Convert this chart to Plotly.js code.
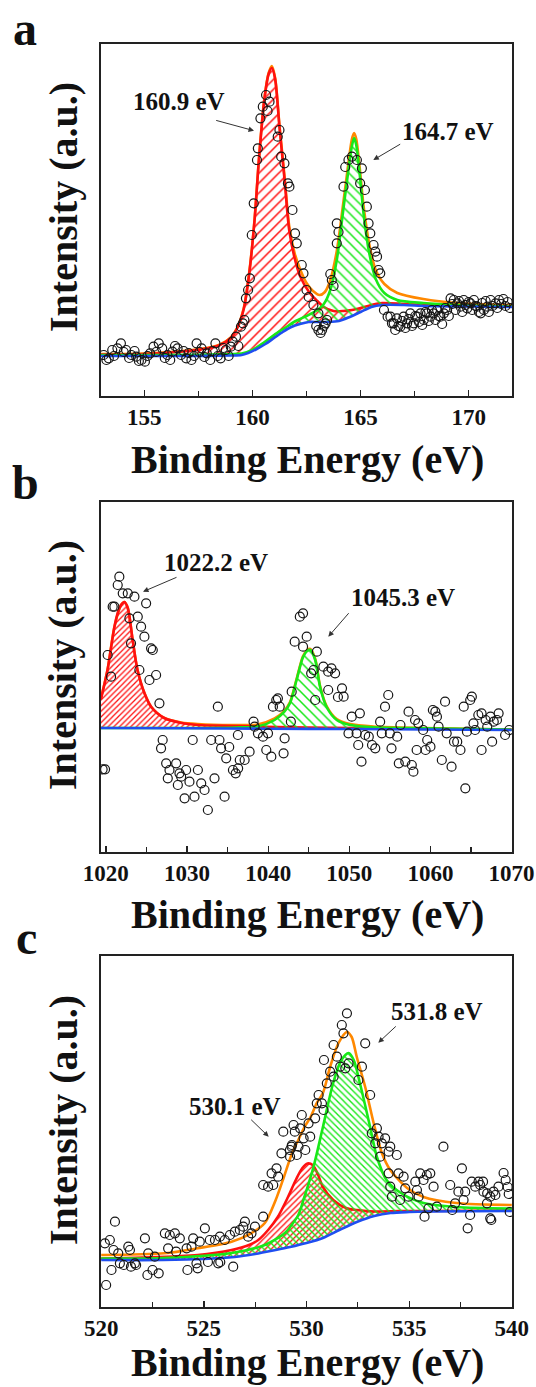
<!DOCTYPE html>
<html>
<head>
<meta charset="utf-8">
<script src="https://cdn.plot.ly/plotly-3.0.1.min.js"></script>
<style>html,body{margin:0;padding:0;background:#fff;}#chart{width:536px;height:1387px;}</style>
</head>
<body>
<div id="chart"></div>
<script>
// ---------------- Panel a : S 2p ----------------
const aDataX = [153.12,153.25,153.36,153.52,153.6,153.76,153.92,154.05,154.16,154.3,154.4,154.55,154.63,154.75,154.87,155.03,155.15,155.27,155.43,155.55,155.67,155.83,155.95,156.07,156.2,156.3,156.42,156.54,156.7,156.82,156.94,157.05,157.18,157.3,157.42,157.55,157.65,157.78,157.89,158.05,158.17,158.29,158.4,158.53,158.65,158.77,158.9,159.0,159.09,159.24,159.35,159.47,159.56,159.63,159.7,159.8,159.88,159.97,160.06,160.21,160.25,160.37,160.48,160.63,160.7,160.79,161.17,161.25,161.33,161.48,161.64,161.71,161.85,161.97,162.05,162.28,162.36,162.5,162.6,162.82,162.95,163.05,163.05,163.15,163.22,163.3,163.38,163.45,163.6,163.67,163.75,163.9,163.9,163.98,164.21,164.29,164.44,164.6,164.83,164.98,165.06,165.2,165.29,165.37,165.45,165.6,165.68,165.76,165.83,165.91,166.08,166.25,166.38,166.45,166.53,166.6,166.68,166.75,166.84,166.92,166.99,167.07,167.15,167.22,167.3,167.38,167.46,167.53,167.61,167.7,167.77,167.85,167.92,168.0,168.07,168.15,168.23,168.3,168.38,168.46,168.54,168.61,168.69,168.77,168.85,168.92,169.0,169.08,169.16,169.24,169.31,169.39,169.47,169.55,169.62,169.7,169.77,169.85,169.93,170.0,170.08,170.16,170.24,170.31,170.39,170.47,170.55,170.62,170.7,170.78,170.86,170.93,171.01,171.1,171.24,171.32,171.4,171.5,171.6,171.7,171.8,171.9];
const aDataY = [41,36,37.7,46,40,47.7,52.7,44,46,38,41,45,39.3,35,36,34.3,40,42.7,49.3,44,52.7,47.7,38,41,36,44.3,50,47.7,41,45,37.7,43,36,40,52.7,44,47.7,39,42.7,36,45,52.7,40,37.7,48,46,40,49.3,54.3,59.3,50,69.3,72.7,76,97.7,106,117.7,161,192.7,236,247.7,277.7,289.3,301,285,294.3,259.3,266,239.3,232.7,212.7,209.3,186,162.7,152.7,131,122.7,106,99,91,70,82.7,66,63,66,70,72.7,76,122,116,110,152.7,172.7,164,209.3,229,236,239.3,236,212.7,227.7,206,189.3,172.7,162.7,151,144.3,139.3,126,122.7,86,79.3,79.3,72.7,72.7,66,77.7,70,69.3,75,79.3,68,72.7,77,82.7,70,72.7,80,79.3,74,82.7,71,76,84,82.7,75,79.3,86,82.7,76,86,80,79.3,72,82.7,88,86,80,97.7,92,96,86,92.7,95,89.3,84,96,91,87.7,94,92.7,86,96,90,89.3,84,82.7,93,86,95,89.3,84,96,90,92.7,88,96,92,97,90,94,88];
const aBgX = [153,157,159,159.5,159.8,160.2,160.6,161,161.4,161.8,162.2,162.6,163,163.5,164,164.5,165,165.5,166,167,168,170,172];
const aBgY = [40,40,40.5,41,43,47,52,58,64,69,72,74,74,74,75,79,84,89,91,91,90,89.5,89];
const aRedX = [153,155,157,158,158.5,159,159.3,159.6,159.85,160.1,160.3,160.55,160.75,160.9,161.05,161.25,161.5,161.7,161.95,162.2,162.65,163,163.3,163.75,164.2,164.6,165,165.5,166,167,168,170,172];
const aRedY = [41.5,42,45,48,51,58,68,87,122,176,236,296,322,328,317,269,213,166,138,120,103,95,89,85,85,86,88,91,93,92,91,90,89.5];
const aGreenX = [153,158,159.5,160,160.5,161,161.5,162,162.5,163,163.3,163.6,163.9,164.2,164.45,164.6,164.7,164.8,164.95,165.15,165.4,165.7,166.1,166.7,167.9,169.5,172];
const aGreenY = [41,41.5,42.5,46,53,61,68,75,80,86,92,106,136,186,228,250,258,251,224,180,143,117,103,96,93,91,89.5];
const aSumX = [153,155,157,158,158.5,159,159.3,159.6,159.85,160.1,160.3,160.55,160.75,160.9,161.05,161.25,161.5,161.7,161.95,162.2,162.5,162.8,163.1,163.35,163.6,163.9,164.2,164.45,164.6,164.7,164.8,164.95,165.15,165.4,165.7,166.1,166.7,167.9,169.5,172];
const aSumY = [42,42.5,45.5,48.5,51.5,58.5,68.5,88,123,177,237,297,323,330,318,271,216,170,143,127,113,105,101,104,116,145,193,235,257,263,257,230,188,152,126,112,103,97,93,91];

// ---------------- Panel b : Ni 2p ----------------
const bDataX = [1019.6,1019.9,1020.22,1020.64,1020.84,1021.05,1021.46,1021.66,1022.08,1022.7,1022.9,1023.1,1023.52,1023.93,1024.13,1024.34,1024.75,1024.96,1025.37,1025.57,1025.78,1026.19,1026.6,1026.8,1027.0,1027.43,1027.63,1027.84,1028.66,1028.87,1029.07,1029.28,1029.7,1029.89,1030.3,1030.7,1030.92,1031.34,1031.75,1032.16,1032.57,1032.98,1033.39,1033.8,1034.0,1034.2,1034.63,1034.83,1035.2,1035.66,1036.0,1036.27,1036.3,1036.5,1037.1,1037.71,1038.2,1038.33,1038.74,1039.36,1039.77,1039.98,1040.39,1040.59,1041.0,1041.2,1041.42,1041.9,1042.03,1042.8,1042.9,1043.27,1043.9,1044.3,1044.3,1044.75,1045.3,1045.6,1045.8,1046.0,1046.8,1047.4,1047.4,1047.8,1048.25,1048.6,1049.1,1049.3,1049.9,1050.3,1050.9,1051.1,1051.3,1051.5,1051.95,1052.4,1052.8,1053.2,1053.8,1054.0,1054.4,1054.8,1055.0,1055.2,1055.9,1056.1,1056.3,1056.9,1057.3,1057.7,1057.9,1058.1,1058.3,1058.5,1059.1,1059.4,1059.6,1060.0,1060.3,1060.6,1060.8,1061.0,1061.4,1061.8,1062.0,1062.6,1062.9,1063.3,1063.7,1064.1,1064.3,1064.5,1064.9,1065.1,1065.3,1065.5,1065.9,1066.3,1066.3,1066.8,1067.0,1067.4,1067.6,1067.8,1068.2,1068.4,1069.2,1069.7];
const bDataY = [82.7,82.7,197,175.3,245.3,245.3,267,275.3,258.7,258.7,233.7,208.7,255.3,235.3,182,225.3,215.3,248.7,172,203.7,202,177,148.7,103.7,112,88.7,73.7,82,88.7,67,78.7,75.3,53.7,82,70.3,112,55.3,82,68.7,62,42,112,73.7,145.3,112,103.7,55.3,93.7,105,82,78.7,117,83.7,92,92,100.3,130.3,125.3,118.7,115.3,102,118.7,95.3,145.3,152,153.7,145.3,98.7,113.7,130.3,160.3,210.3,235.3,238.7,205.3,215.3,178.7,182,152,200.3,185.3,180.3,162,183.7,178.7,155,163.7,155.3,118.7,135.3,118.7,107,138.7,90.3,117,115.3,107,103.7,130.3,118.7,145.3,157,118.7,103.7,115.3,88.7,127,90.3,140.3,87,80.3,132,102,128.7,122,102,112,105.3,142,140.3,135.3,125.3,92,150.3,118.7,85.3,110.3,110.3,102,145.3,63.7,120.3,152,155.3,128.7,122,137,138.7,102,132,125.3,135.3,110.3,130.3,132,138.7,117,122];
const bBgX = [1019.4,1030,1040,1050,1060,1070];
const bBgY = [124,123.7,123.3,123,122.5,122];
const bRedX = [1019.4,1020.2,1021.05,1021.5,1021.87,1022.28,1022.7,1023.3,1023.9,1024.75,1025.6,1027.2,1029.3,1031.3,1035.5,1039.6,1045,1055,1070];
const bRedY = [153,182,225,240,247,250,244,212,182,159,145,134,129,127,126,125.3,124.5,123.5,122.3];
const bGreenX = [1019.4,1030,1036,1038.7,1040.8,1042,1042.7,1043.5,1044.3,1044.8,1045.2,1045.8,1046.4,1047.2,1048.45,1050.1,1053,1059.2,1070];
const bGreenY = [124,124,124.5,125.5,132,140.3,149,172,195,201,202,192,165,145,132,127,124.7,123.7,122.3];
const bSumX = [1019.4,1020.2,1021.05,1021.87,1022.28,1022.7,1023.3,1023.9,1024.75,1025.6,1027.2,1029.3,1031.3,1035.5,1038.7,1040.8,1042,1042.7,1043.5,1044.3,1044.8,1045.2,1045.8,1046.4,1047.2,1048.45,1050.1,1053,1059.2,1070];
const bSumY = [154,182,225,247,250,244,212,182,159,145,134,129.5,128,127,127.5,133.5,141.5,150,173,196,202,203,193,166,146,133,128,125.5,124,122.5];

// ---------------- Panel c : O 1s ----------------
const cDataX = [520.18,520.24,520.42,520.5,520.6,520.67,520.83,520.91,521.1,521.32,521.4,521.45,521.64,521.7,522.13,522.25,522.29,522.5,522.61,522.8,523.1,523.26,523.34,523.59,523.65,523.83,524.16,524.2,524.4,524.48,524.64,524.7,524.8,525.05,525.2,525.29,525.54,525.7,525.78,525.8,526.02,526.27,526.43,526.51,526.75,526.92,527.0,527.16,527.32,527.49,527.89,527.89,528.13,528.3,528.38,528.54,528.62,528.78,528.87,529.19,529.2,529.27,529.29,529.37,529.43,529.53,529.61,529.69,529.77,529.86,529.94,530.1,530.18,530.42,530.5,530.59,530.75,530.83,530.85,530.99,531.15,531.32,531.32,531.48,531.64,531.72,531.8,531.89,531.97,532.05,532.53,532.7,532.86,533.1,533.18,533.35,533.43,533.51,533.59,533.67,533.83,534.0,534.0,534.08,534.08,534.16,534.4,534.48,534.56,534.73,534.81,534.97,535.3,535.38,535.46,535.54,535.7,535.75,535.86,535.94,536.03,536.19,536.35,536.67,537.0,537.1,537.24,537.4,537.57,537.65,537.73,537.85,537.97,538.05,538.22,538.38,538.46,538.6,538.62,538.79,538.8,538.95,538.95,539.0,539.11,539.2,539.35,539.6,539.7,539.8,539.85,539.9];
const cDataY = [63.7,22,67,37,57,85.3,53.7,43.7,42,60.3,57,40.3,43.7,42,68.7,32,53.7,37,50.3,33.7,73.7,58.7,72,73.7,55.3,68.7,58.7,37,60.3,68.7,43.7,38.7,65.3,78.7,45,67,67,43.7,70.3,45,67,72,40.3,75.3,77,80.3,85.3,70.3,73.7,80.3,90.3,122,120.3,133.7,122,138.7,130.3,153.7,175.3,157,150.3,160.3,162,182,175.3,152,160.3,178.7,192,168.7,157,183.7,170.3,188.7,203.7,212,203.7,197,247,223.7,235.3,230.3,262,250.3,240.3,282,273.7,238.7,293.7,243.7,227,240.3,263.7,212,173.7,163.7,178.7,170.3,150.3,163.7,168.7,155.3,133.7,160.3,120.3,110.3,152,133.7,107,130.3,118.7,110.3,125.3,117,110.3,133.7,127,90.3,132,98.7,133.7,120.3,100.3,160.3,122,97,103.7,115.3,138.7,107,115.3,78.7,92,125.3,120.3,125.3,122,125.3,115.3,103.7,113.7,110.3,88.7,87,115.3,112,120.3,134,127,120,113,95];
const cBgX = [520,523,525,526.5,527.5,528.5,529.2,530,530.8,531.6,532.45,533.3,534.1,535,536,540];
const cBgY = [47,47,48,50,53,57,60,64,69,77,85,91,94,95,95.5,96];
const cRedX = [520,522,524.7,526.35,527.2,527.65,528.13,528.6,529.1,529.5,529.8,530.05,530.3,530.55,530.8,531.3,531.95,532.45,533.3,534.5,536,540];
const cRedY = [48.5,49.5,52,57,62,67,77,90,110,128,139,143.5,142,133,120,107,98.7,97,95.5,96,96,96.5];
const cGreenX = [520,523,526.35,527.97,528.95,529.2,529.6,529.85,530.34,530.8,531.3,531.7,532.05,532.3,532.6,533.1,533.43,533.9,534.6,535.7,537.3,540];
const cGreenY = [48.5,49,54,62,74,80,92,107,140,180,224,247,254,247,224,180,150,127,114,104,100,98.5];
const cSumX = [520,523.1,524.7,526.35,527.3,527.97,528.5,528.9,529.3,529.6,529.9,530.2,530.5,530.8,531.15,531.56,531.97,532.2,532.45,532.86,533.27,533.67,534.08,534.9,535.7,537.3,540];
const cSumY = [52,53.7,58.7,65.3,73.7,84,107,130,154,167,180,190,204,214,240,264,275,270,250,220,184,154,137,119,110,104,102];

const xTickStep = [5, 10, 5];
const xRanges = [[153,172],[1019.4,1070.05],[519.99,540.01]];
const panelLetters = ['a','b','c'];
const peakLabels = [['160.9 eV','164.7 eV'],['1022.2 eV','1045.3 eV'],['530.1 eV','531.8 eV']];

// ---------------- drawing ----------------
const W = 536, H = 1387;
const FONT = '"Liberation Serif", "Times New Roman", serif';
const RED = '#ff1010', GREEN = '#18e818', BLUE = '#1f4ef0', ORANGE = '#ff8800';
const px = v => v / W, py = v => 1 - v / H;

const panels = [
  {ax:'', d:[aDataX,aDataY], bg:[aBgX,aBgY], r:[aRedX,aRedY], g:[aGreenX,aGreenY], s:[aSumX,aSumY], rs:7, gs:7, rsol:0.22, gsol:0.22, frame:[44,396]},
  {ax:'2', d:[bDataX,bDataY], bg:[bBgX,bBgY], r:[bRedX,bRedY], g:[bGreenX,bGreenY], s:[bSumX,bSumY], rs:4, gs:7, rsol:0.32, gsol:0.22, frame:[502,852]},
  {ax:'3', d:[cDataX,cDataY], bg:[cBgX,cBgY], r:[cRedX,cRedY], g:[cGreenX,cGreenY], s:[cSumX,cSumY], rs:4.2, gs:4.6, rsol:0.3, gsol:0.3, frame:[956,1307]}
];

const LW = 2.6;
const traces = [];
panels.forEach(p => {
  const xa = 'x' + p.ax, ya = 'y' + p.ax;
  const common = {xaxis: xa, yaxis: ya, hoverinfo: 'skip', showlegend: false};
  traces.push(Object.assign({x: p.s[0], y: p.s[1], mode: 'lines', line: {color: ORANGE, width: LW, shape: 'spline', smoothing: 0.8}}, common));
  traces.push(Object.assign({x: p.bg[0], y: p.bg[1], mode: 'lines', line: {color: 'rgba(0,0,0,0)', width: 0, shape: 'spline', smoothing: 0.8}}, common));
  traces.push(Object.assign({x: p.r[0], y: p.r[1], mode: 'lines', fill: 'tonexty', fillcolor: 'rgba(0,0,0,0)',
    fillpattern: {shape: '/', fgcolor: RED, bgcolor: 'rgba(0,0,0,0)', size: p.rs, solidity: p.rsol, fgopacity: 1},
    line: {color: RED, width: LW, shape: 'spline', smoothing: 0.8}}, common));
  traces.push(Object.assign({x: p.bg[0], y: p.bg[1], mode: 'lines', line: {color: 'rgba(0,0,0,0)', width: 0, shape: 'spline', smoothing: 0.8}}, common));
  traces.push(Object.assign({x: p.g[0], y: p.g[1], mode: 'lines', fill: 'tonexty', fillcolor: 'rgba(0,0,0,0)',
    fillpattern: {shape: '\\', fgcolor: GREEN, bgcolor: 'rgba(0,0,0,0)', size: p.gs, solidity: p.gsol, fgopacity: 1},
    line: {color: GREEN, width: LW, shape: 'spline', smoothing: 0.8}}, common));
  traces.push(Object.assign({x: p.bg[0], y: p.bg[1], mode: 'lines', line: {color: BLUE, width: LW, shape: 'spline', smoothing: 0.8}}, common));
  traces.push(Object.assign({x: p.d[0], y: p.d[1], mode: 'markers',
    marker: {symbol: 'circle-open', size: 9, color: '#151515', line: {width: 1.2}}}, common));
});

const layout = {
  width: W, height: H,
  margin: {l: 0, r: 0, t: 0, b: 0},
  paper_bgcolor: '#fff', plot_bgcolor: '#fff',
  showlegend: false,
  annotations: []
};

panels.forEach((p, i) => {
  const xk = 'xaxis' + p.ax, yk = 'yaxis' + p.ax;
  const top = p.frame[0], bot = p.frame[1];
  layout[xk] = {
    domain: [px(101), px(512)], range: xRanges[i], anchor: 'y' + p.ax,
    dtick: xTickStep[i], tick0: 0, ticks: 'inside', ticklen: 6, tickwidth: 1.3, tickcolor: '#222',
    minor: {ticks: 'inside', ticklen: 5, tickwidth: 1.1, tickcolor: '#222', dtick: xTickStep[i] / 2, showgrid: false},
    showline: true, linecolor: '#222', linewidth: 1.6, mirror: true,
    showgrid: false, zeroline: false, ticklabelstandoff: 0,
    tickfont: {family: FONT, size: 23, color: '#111', weight: 'bold'}
  };
  layout[yk] = {
    domain: [py(bot), py(top)], range: [0, bot - top], anchor: 'x' + p.ax,
    showticklabels: false, ticks: '', showline: true, linecolor: '#222', linewidth: 1.6, mirror: true,
    showgrid: false, zeroline: false, fixedrange: true
  };
});

const ann = layout.annotations;
const txt = (text, x, y, size, extra) => ann.push(Object.assign({
  xref: 'paper', yref: 'paper', x: px(x), y: py(y), xanchor: 'center', yanchor: 'middle',
  text: text, showarrow: false, font: {family: FONT, size: size, color: '#111', weight: 'bold'}
}, extra || {}));
const arrow = (hx, hy, tx, ty) => ann.push({
  xref: 'paper', yref: 'paper', x: px(hx), y: py(hy), ax: tx - hx, ay: ty - hy,
  text: '', showarrow: true, arrowhead: 2, arrowsize: 1.1, arrowwidth: 1, arrowcolor: '#333'
});

// panel letters
txt(panelLetters[0], 25, 29, 48);
txt(panelLetters[1], 25, 482, 48);
txt(panelLetters[2], 26, 937, 48);
// axis titles
[459, 914, 1362].forEach(y => txt('Binding Energy (eV)', 307, y, 40));
[207, 665, 1120].forEach(y => txt('Intensity (a.u.)', 63, y, 40, {textangle: -90}));
// peak labels + arrows
txt(peakLabels[0][0], 178.5, 101.7, 25); arrow(254, 130.7, 214.7, 120);
txt(peakLabels[0][1], 448, 131.5, 25);   arrow(373.3, 160, 401.7, 143.3);
txt(peakLabels[1][0], 215.7, 562, 25);   arrow(143, 591.7, 178, 576.7);
txt(peakLabels[1][1], 403.3, 597.5, 25); arrow(328.3, 636.7, 350, 611.7);
txt(peakLabels[2][0], 235.3, 1106.5, 25); arrow(268.7, 1136.7, 249.7, 1118.3);
txt(peakLabels[2][1], 436.7, 1011.5, 25); arrow(378.3, 1042.7, 397.3, 1025);

Plotly.newPlot('chart', traces, layout, {staticPlot: true, displayModeBar: false});
</script>
</body>
</html>
